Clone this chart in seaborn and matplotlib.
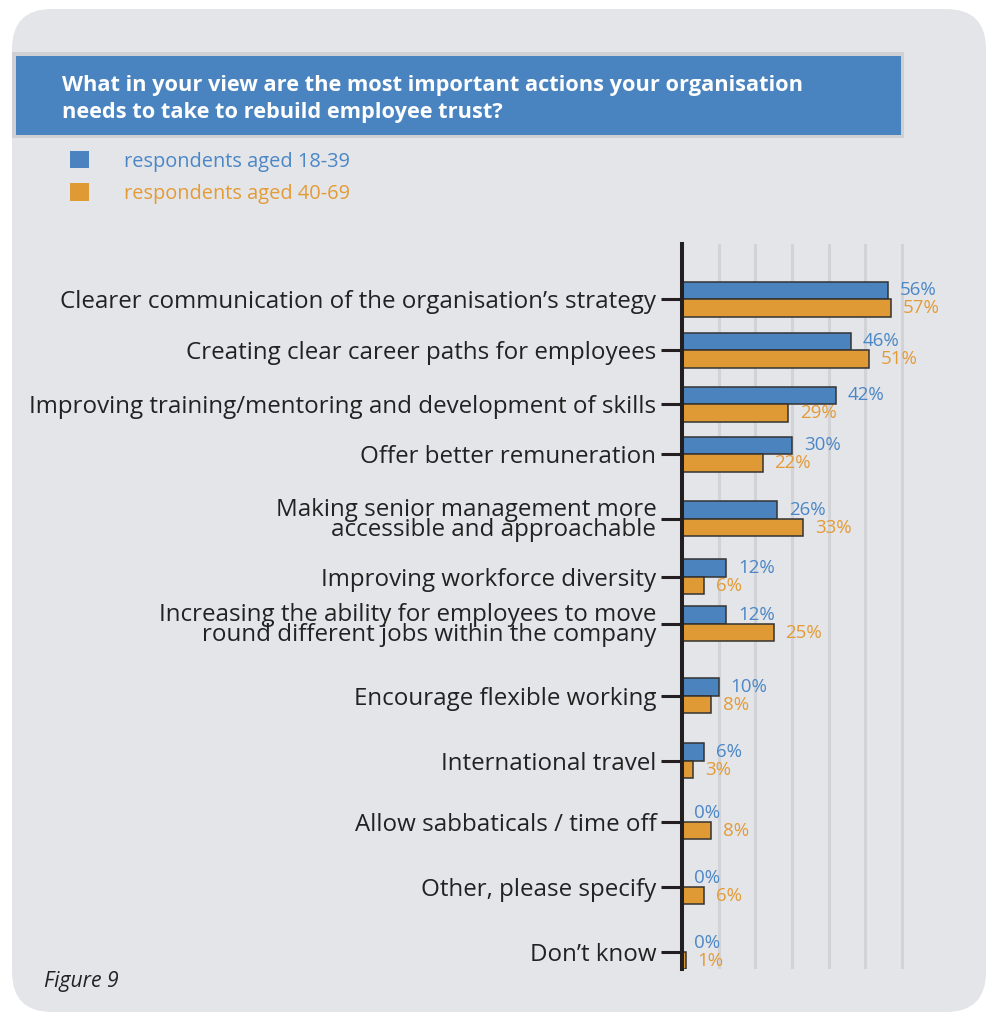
import matplotlib
matplotlib.use("Agg")
import matplotlib.pyplot as plt
from matplotlib.patches import FancyBboxPatch, Rectangle
import numpy as np
import pandas as pd
import seaborn as sns

# ---- survey results (% of respondents) ----
categories = [
    "Clearer communication of the organisation\u2019s strategy",
    "Creating clear career paths for employees",
    "Improving training/mentoring and development of skills",
    "Offer better remuneration",
    "Making senior management more\naccessible and approachable",
    "Improving workforce diversity",
    "Increasing the ability for employees to move\nround different jobs within the company",
    "Encourage flexible working",
    "International travel",
    "Allow sabbaticals / time off",
    "Other, please specify",
    "Don\u2019t know",
]
aged_18_39 = [56, 46, 42, 30, 26, 12, 12, 10, 6, 0, 0, 0]
aged_40_69 = [57, 51, 29, 22, 33, 6, 25, 8, 3, 8, 6, 1]
series_names = ["respondents aged 18-39", "respondents aged 40-69"]

title_lines = [
    "What in your view are the most important actions your organisation",
    "needs to take to rebuild employee trust?",
]
footer = "Figure 9"

# row centres on the vertical axis (axis runs 244 at top to 969 at bottom)
row_y = [299, 350, 404, 454, 519, 577, 624, 696, 761, 822, 887, 952]

BLUE = "#4a83be"
ORANGE = "#e09a35"
BLUE_TXT = "#4b87c6"
ORANGE_TXT = "#e39b36"
PANEL = "#e4e5e9"
GRID = "#d2d3d7"
INK = "#231f20"

sns.set_theme(style="white")
plt.rcParams["font.family"] = ["Open Sans", "DejaVu Sans"]

W, H = 987, 1013
fig = plt.figure(figsize=(W / 100, H / 100), dpi=100, facecolor="white")

# ---- background panel, title bar and footer (pixel coordinates) ----
bg = fig.add_axes([0, 0, 1, 1], zorder=0)
bg.set_xlim(0, W)
bg.set_ylim(H, 0)
bg.axis("off")
bg.add_patch(FancyBboxPatch((12, 9), 974, 1003,
                            boxstyle="round,pad=0,rounding_size=40",
                            facecolor=PANEL, edgecolor="none"))
bg.add_patch(Rectangle((12, 52), 892, 86, facecolor="#cfd0d4", edgecolor="none"))
bg.add_patch(Rectangle((16, 56), 885, 79, facecolor="#4a84c0", edgecolor="none"))
bg.text(62, 85, title_lines[0], color="white", fontsize=15.65, fontweight="bold",
        va="center", ha="left")
bg.text(62, 112, title_lines[1], color="white", fontsize=15.65, fontweight="bold",
        va="center", ha="left")
bg.text(44, 981, footer, color="#222222", fontsize=15.2, style="italic",
        va="center", ha="left")

# ---- chart ----
x0_px, y_top, y_bot = 682, 244, 969
px_per_pct = 3.67
xmax = 62
ax = fig.add_axes([x0_px / W, 1 - y_bot / H,
                   xmax * px_per_pct / W, (y_bot - y_top) / H], zorder=2)
ax.patch.set_alpha(0)

df = pd.DataFrame({
    "pos": row_y * 2,
    "value": aged_18_39 + aged_40_69,
    "group": [series_names[0]] * len(row_y) + [series_names[1]] * len(row_y),
})

sns.barplot(data=df, x="value", y="pos", hue="group", orient="h",
            native_scale=True, hue_order=series_names,
            palette=[BLUE, ORANGE], width=35 / 47,
            edgecolor="#333333", linewidth=1.1, saturation=1,
            errorbar=None, ax=ax, zorder=3)

ax.set_xlim(0, xmax)
ax.set_ylim(y_bot, y_top)

# value labels at the end of each bar
for cont, color in zip(ax.containers, [BLUE_TXT, ORANGE_TXT]):
    labels = [f"{int(round(v))}%" for v in cont.datavalues]
    ax.bar_label(cont, labels=labels, padding=8.5, color=color, fontsize=13.5)

# vertical grid lines every 10%
ax.set_xticks([10, 20, 30, 40, 50, 60])
ax.set_xticklabels([])
ax.tick_params(axis="x", length=0)
ax.grid(axis="x", color=GRID, linewidth=2.2, zorder=0)
ax.set_axisbelow(True)

ax.set_yticks(row_y)
ax.set_yticklabels(categories, fontsize=17.4, color="#222222", linespacing=0.8)
ax.tick_params(axis="y", length=15, width=2.2, color=INK, pad=3.5, left=True)
ax.set_xlabel("")
ax.set_ylabel("")

for side in ["top", "right", "bottom"]:
    ax.spines[side].set_visible(False)
ax.spines["left"].set_color(INK)
ax.spines["left"].set_linewidth(2.9)
ax.spines["left"].set_zorder(5)

# legend in the top-left area
leg = ax.legend(loc="upper left", bbox_to_anchor=(70 / W, 1 - 151 / H),
                bbox_transform=fig.transFigure, frameon=False, fontsize=14.4,
                handlelength=0.95, handleheight=0.95, handletextpad=1.75,
                labelspacing=0.6, borderaxespad=0, borderpad=0)
for txt, c in zip(leg.get_texts(), [BLUE_TXT, ORANGE_TXT]):
    txt.set_color(c)
for h in leg.legend_handles:
    h.set_edgecolor("none")

fig.savefig("out.png", dpi=100, facecolor="white")
